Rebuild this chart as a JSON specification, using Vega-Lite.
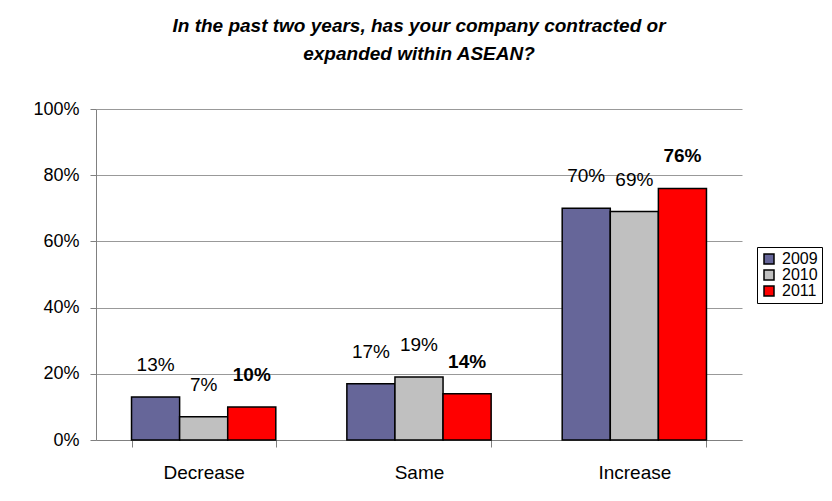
{
  "$schema": "https://vega.github.io/schema/vega-lite/v6.json",
  "width": 646,
  "height": 331,
  "autosize": {"type": "none"},
  "padding": {"left": 96, "top": 109, "right": 90, "bottom": 61},
  "background": "white",
  "title": {
    "text": ["In the past two years, has your company contracted or", "expanded within ASEAN?"],
    "font": "Liberation Sans",
    "fontSize": 19,
    "fontStyle": "italic",
    "fontWeight": "bold",
    "lineHeight": 28,
    "color": "black",
    "anchor": "middle",
    "offset": 36
  },
  "config": {
    "font": "Liberation Sans",
    "view": {"stroke": null}
  },
  "data": {
    "values": [
      {"change": "Decrease", "year": "2009", "value": 0.13, "label": "13%"},
      {"change": "Decrease", "year": "2010", "value": 0.07, "label": "7%"},
      {"change": "Decrease", "year": "2011", "value": 0.10, "label": "10%"},
      {"change": "Same", "year": "2009", "value": 0.17, "label": "17%"},
      {"change": "Same", "year": "2010", "value": 0.19, "label": "19%"},
      {"change": "Same", "year": "2011", "value": 0.14, "label": "14%"},
      {"change": "Increase", "year": "2009", "value": 0.70, "label": "70%"},
      {"change": "Increase", "year": "2010", "value": 0.69, "label": "69%"},
      {"change": "Increase", "year": "2011", "value": 0.76, "label": "76%"}
    ]
  },
  "encoding": {
    "x": {
      "field": "change",
      "type": "nominal",
      "sort": ["Decrease", "Same", "Increase"],
      "scale": {"paddingInner": 0.33, "paddingOuter": 0.165},
      "axis": {
        "title": null,
        "labelAngle": 0,
        "labelFontSize": 19,
        "labelColor": "black",
        "labelPadding": 16,
        "domainColor": "#808080",
        "tickColor": "#808080",
        "tickBand": "extent",
        "tickSize": 7,
        "grid": false
      }
    },
    "xOffset": {"field": "year", "type": "nominal", "scale": {"paddingInner": 0, "paddingOuter": 0}},
    "y": {
      "field": "value",
      "type": "quantitative",
      "scale": {"domain": [0, 1], "nice": false},
      "axis": {
        "title": null,
        "format": ".0%",
        "values": [0, 0.2, 0.4, 0.6, 0.8, 1],
        "labelFontSize": 18,
        "labelColor": "black",
        "labelPadding": 11,
        "tickSize": 6,
        "tickColor": "#808080",
        "domainColor": "#808080",
        "gridColor": "#999999",
        "gridWidth": 1.2
      }
    }
  },
  "layer": [
    {
      "mark": {"type": "bar", "stroke": "black", "strokeWidth": 1.5},
      "encoding": {
        "color": {
          "field": "year",
          "type": "nominal",
          "scale": {"domain": ["2009", "2010", "2011"], "range": ["#666699", "#C0C0C0", "#FF0000"]},
          "legend": {
            "title": null,
            "orient": "none",
            "legendX": 661,
            "legendY": 138,
            "strokeColor": "black",
            "padding": 4,
            "symbolType": "square",
            "symbolSize": 100,
            "symbolStrokeColor": "black",
            "symbolStrokeWidth": 1.5,
            "symbolOpacity": 1,
            "labelFontSize": 16,
            "labelColor": "black",
            "labelOffset": 5,
            "rowPadding": 0
          }
        }
      }
    },
    {
      "transform": [{"filter": "datum.year !== '2011'"}],
      "mark": {"type": "text", "baseline": "bottom", "dy": -22, "fontSize": 19, "color": "black"},
      "encoding": {"text": {"field": "label"}}
    },
    {
      "transform": [{"filter": "datum.year === '2011'"}],
      "mark": {"type": "text", "baseline": "bottom", "dy": -22, "fontSize": 19, "fontWeight": "bold", "color": "black"},
      "encoding": {"text": {"field": "label"}}
    }
  ]
}
